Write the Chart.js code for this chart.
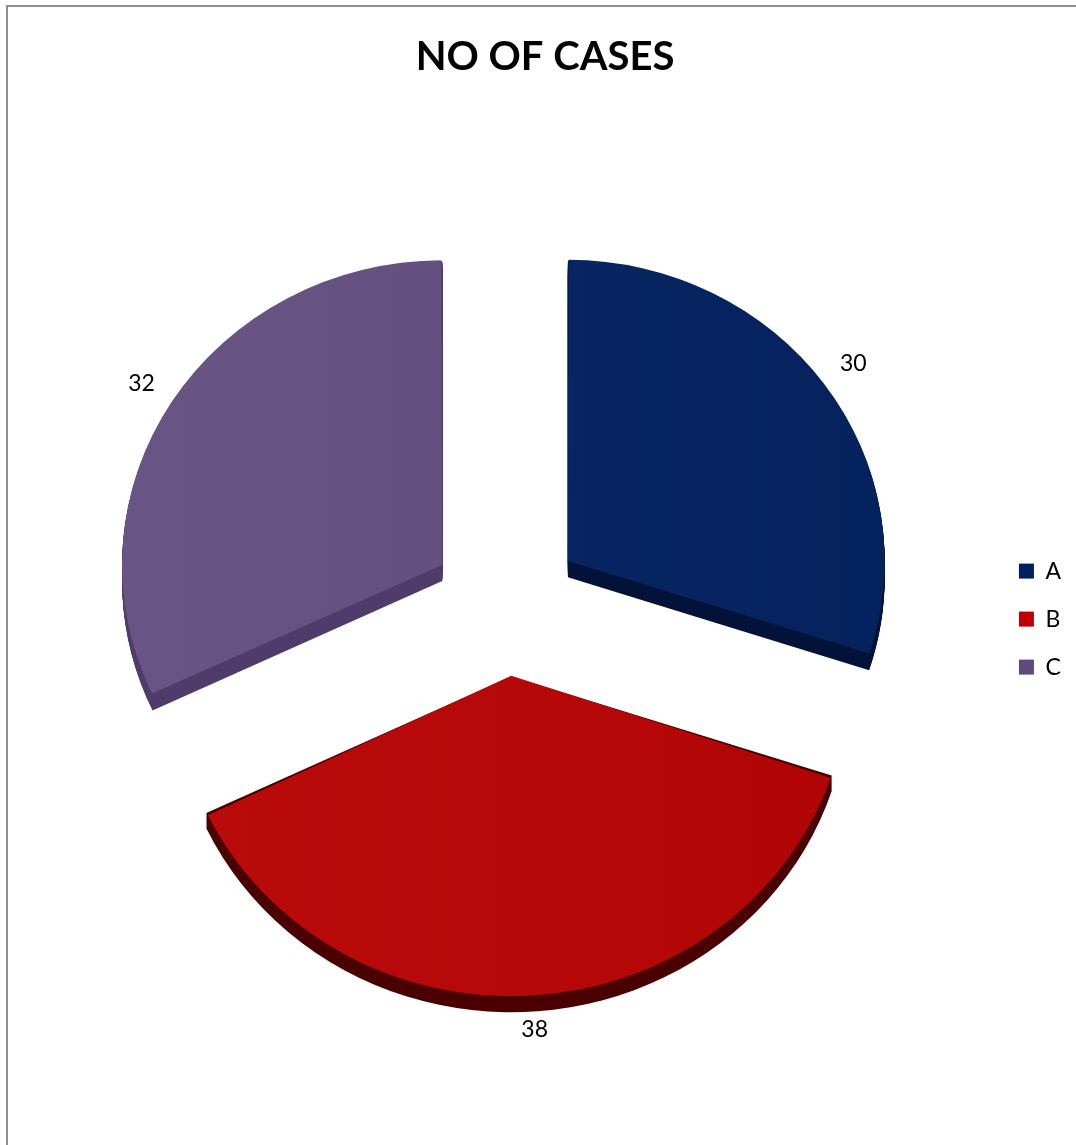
<!DOCTYPE html>
<html>
<head>
<meta charset="utf-8">
<title>NO OF CASES</title>
<script src="https://cdn.jsdelivr.net/npm/chart.js@4.4.1/dist/chart.umd.min.js"></script>
<style>
  html, body { margin: 0; padding: 0; background: #fff; width: 1076px; height: 1145px; overflow: hidden; }
  .frame { position: absolute; left: 6px; top: 5px; width: 1200px; height: 1300px; border-left: 2px solid #8f8f8f; border-top: 2px solid #8f8f8f; }
  #casesChart { position: absolute; left: 0; top: 0; }
</style>
</head>
<body>
<div class="frame"></div>
<canvas id="casesChart" width="1076" height="1145"></canvas>
<script>
  var categories = ['A', 'B', 'C'];
  var cases = [30, 38, 32];

  // face gradients (left -> right), side walls and legend swatches
  var faceColors = [['#0c2a6a', '#03205a'], ['#bd0d0d', '#af0303'], ['#6a5787', '#5e4b78']];
  var sideColors = ['#021238', '#4a0000', '#503c6a'];
  var swatchColors = ['#002060', '#c00000', '#604a7b'];

  var DEPTH = 17;     // wall height of the extruded slices
  var TILT = 0.951;   // vertical squash of the pie disc

  function faceFill(ctx) {
    var chart = ctx.chart;
    var area = chart.chartArea;
    var pair = faceColors[ctx.dataIndex];
    if (!area) return pair[1];
    var g = chart.ctx.createLinearGradient(area.left, 0, area.right, 0);
    g.addColorStop(0, pair[0]);
    g.addColorStop(1, pair[1]);
    return g;
  }

  // same translation / radius the ArcElement uses when it draws an offset slice
  function arcGeom(arc) {
    var p = arc.getProps(['x', 'y', 'startAngle', 'endAngle', 'outerRadius', 'circumference']);
    var mid = (p.startAngle + p.endAngle) / 2;
    var off = (arc.options.offset || 0) / 4;
    var fix = 1 - Math.sin(Math.min(Math.PI, p.circumference || 0));
    return {
      x: p.x + Math.cos(mid) * off,
      y: p.y + Math.sin(mid) * off,
      r: p.outerRadius + off * fix,
      mid: mid, start: p.startAngle, end: p.endAngle
    };
  }

  function tiltY(chart, y) {
    var cy = (chart.chartArea.top + chart.chartArea.bottom) / 2;
    return cy + (y - cy) * TILT;
  }

  // squash the disc and draw a dark wall under each slice
  var tiltPlugin = {
    id: 'tilt',
    beforeDatasetsDraw: function(chart) {
      var ctx = chart.ctx;
      var cy = (chart.chartArea.top + chart.chartArea.bottom) / 2;
      ctx.save();
      ctx.translate(0, cy);
      ctx.scale(1, TILT);
      ctx.translate(0, -cy);
      chart.getDatasetMeta(0).data.forEach(function(arc, i) {
        var g = arcGeom(arc);
        ctx.fillStyle = sideColors[i];
        for (var d = 1; d <= DEPTH; d++) {
          ctx.beginPath();
          ctx.moveTo(g.x, g.y + d);
          ctx.arc(g.x, g.y + d, g.r, g.start, g.end);
          ctx.closePath();
          ctx.fill();
        }
      });
    },
    afterDatasetsDraw: function(chart) {
      chart.ctx.restore();
    }
  };

  // value labels outside each slice
  var valueLabels = {
    id: 'valueLabels',
    afterDatasetsDraw: function(chart) {
      var ctx = chart.ctx;
      ctx.save();
      ctx.font = '23px Lato';
      ctx.fillStyle = '#000';
      ctx.textAlign = 'center';
      ctx.textBaseline = 'middle';
      chart.getDatasetMeta(0).data.forEach(function(arc, i) {
        var g = arcGeom(arc);
        var dist = g.r + 36;
        var lx = g.x + Math.cos(g.mid) * dist;
        var ly = tiltY(chart, g.y + Math.sin(g.mid) * dist);
        ctx.fillText(String(cases[i]), lx, ly);
      });
      ctx.restore();
    }
  };

  new Chart(document.getElementById('casesChart').getContext('2d'), {
    type: 'pie',
    data: {
      labels: categories,
      datasets: [{
        data: cases,
        backgroundColor: faceFill,
        borderWidth: 0,
        offset: 304,
        clip: false
      }]
    },
    options: {
      responsive: false,
      animation: false,
      devicePixelRatio: 1,
      radius: 313,
      layout: { padding: { left: 19, right: 5, top: 0, bottom: 19 } },
      plugins: {
        title: {
          display: true,
          text: 'NO OF CASES',
          color: '#000',
          font: { family: 'Lato', size: 40, weight: 'bold' },
          padding: { top: 33, bottom: 0 }
        },
        legend: {
          position: 'right',
          fullSize: false,
          title: { display: true, text: '', padding: 0, font: { size: 26 } },
          labels: {
            boxWidth: 15,
            boxHeight: 15,
            padding: 25,
            color: '#000',
            font: { family: 'Lato', size: 23 },
            generateLabels: function() {
              return categories.map(function(name, i) {
                return {
                  text: name, fillStyle: swatchColors[i], strokeStyle: swatchColors[i],
                  fontColor: '#000', lineWidth: 0, index: i, hidden: false
                };
              });
            }
          }
        },
        tooltip: { enabled: false }
      }
    },
    plugins: [tiltPlugin, valueLabels]
  });
</script>
</body>
</html>
